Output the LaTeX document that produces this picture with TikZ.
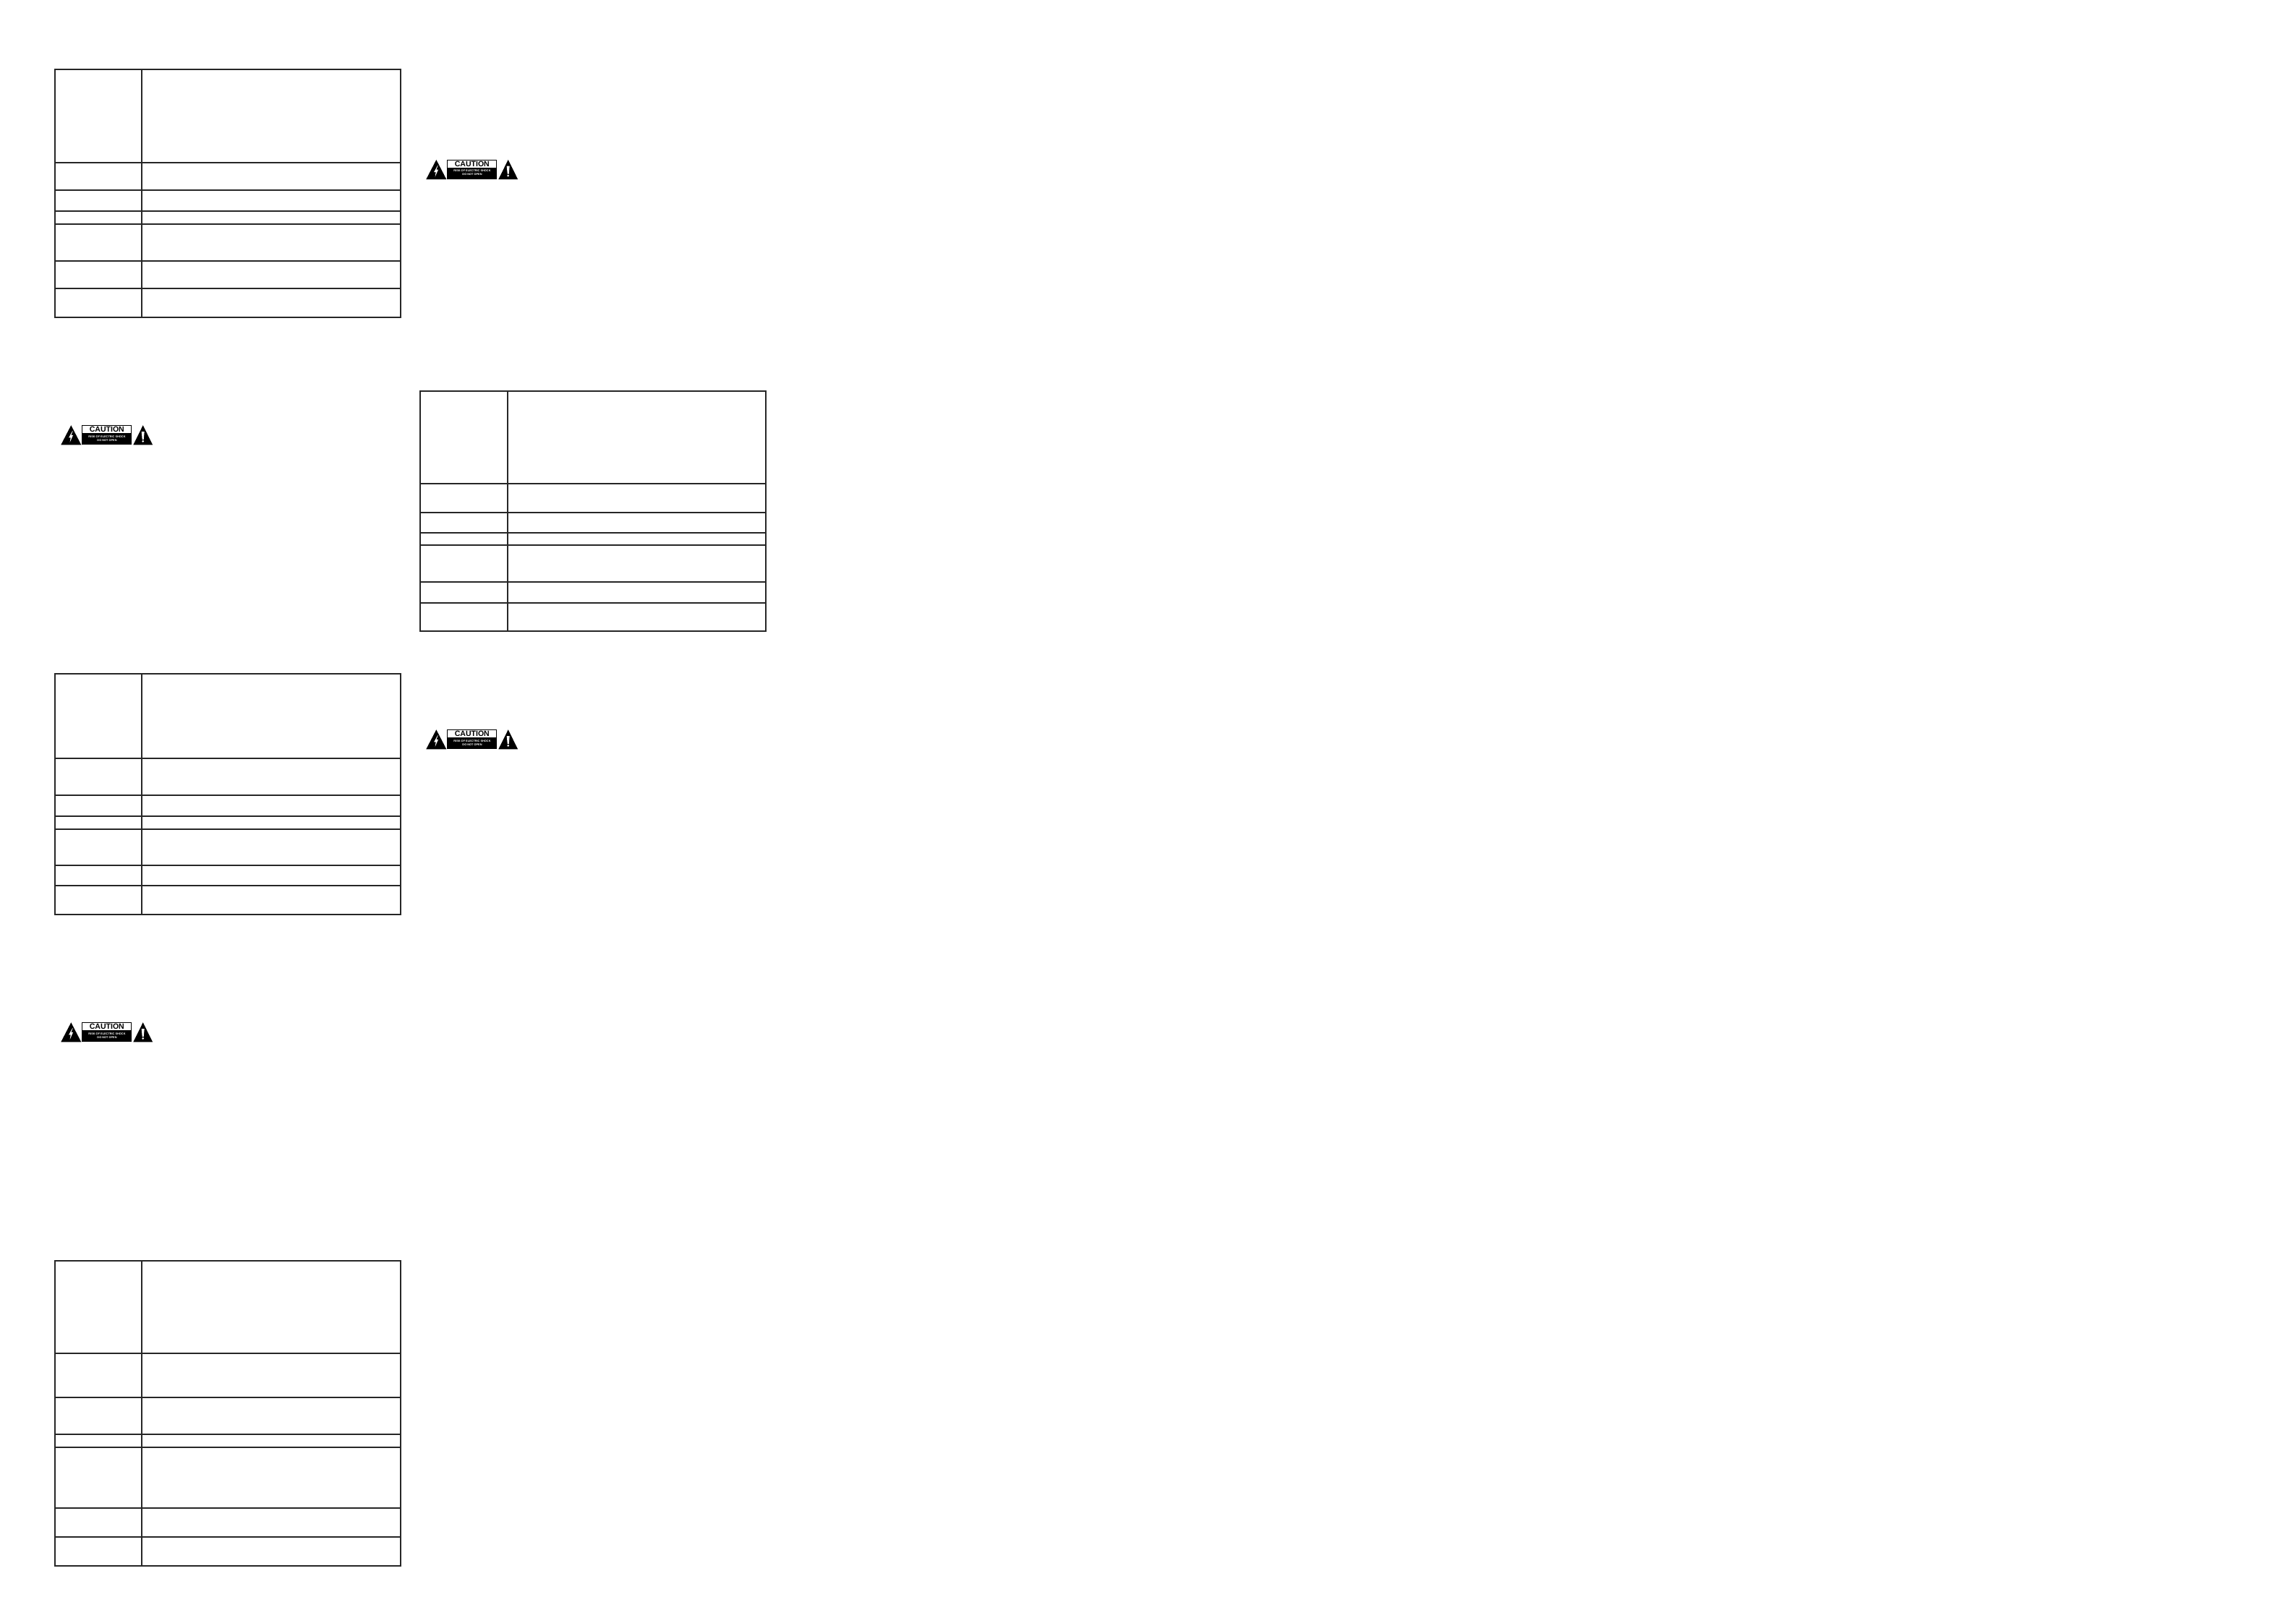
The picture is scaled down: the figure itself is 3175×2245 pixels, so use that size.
\documentclass[tikz,border=0pt]{standalone}
\usepackage{fontspec}
\setmainfont{Liberation Sans}
\usepackage{tikz}

% one table: name, left, column, right edge, top, then the row lines from top to bottom
\newcommand{\spectable}[6]{
  \foreach \rowy [count=\rowi, remember=\rowy as \lasty (initially #5)] in {#6} {
    \node[speccell, minimum width={(#3-#2)*0.01cm}, minimum height={(\rowy-\lasty)*0.01cm}](#1L\rowi) at (#2, \lasty){};
    \node[speccell, minimum width={(#4-#3)*0.01cm}, minimum height={(\rowy-\lasty)*0.01cm}](#1R\rowi) at (#3, \lasty){};
  }
}

% one caution label, placed by the top left corner of its first triangle
\newcommand{\cautionlabel}[3]{
  \begin{scope}[shift={(#2, #3)}]
    \fill (14, 0) -- (0, 27) -- (28, 27) -- cycle;
    \fill[white] (16, 7.7) -- (10.8, 17) -- (13.4, 17) -- (12.4, 23.5) -- (16.8, 13.5) -- (14.2, 13.5) -- (16.4, 7.7) -- cycle;
    \node[cautionbox](#1box) at (29, 0){};
    \node[cautiontop](#1top) at (30, 1){\textbf{CAUTION}};
    \node[cautionsmall](#1small) at (63.7, 18){RISK OF ELECTRIC SHOCK\\DO NOT OPEN};
    \fill (113.4, 0) -- (100, 27) -- (126.8, 27) -- cycle;
    \fill[white] (111.4, 8.7) -- (115.4, 8.7) -- (114.4, 19.7) -- (112.4, 19.7) -- cycle;
    \node[bangdot](#1dot) at (113.4, 22){};
  \end{scope}
}

\begin{document}
\begin{tikzpicture}[
    x=0.01cm, y=-0.01cm,
    speccell/.style={draw=black!85, line width=0.5pt, inner sep=0pt, outer sep=0pt, anchor=north west},
    cautionbox/.style={fill=black, anchor=north west, inner sep=0pt, outer sep=0pt, minimum width=0.69cm, minimum height=0.265cm},
    cautiontop/.style={fill=white, anchor=north west, inner sep=0pt, outer sep=0pt, minimum width=0.67cm, minimum height=0.10cm, font=\fontsize{3pt}{3pt}\selectfont},
    cautionsmall/.style={text=white, align=center, inner sep=0pt, font=\fontsize{1.1pt}{1.5pt}\selectfont\bfseries},
    bangdot/.style={circle, fill=white, inner sep=0pt, minimum size=0.03cm}
]
\useasboundingbox (0, -1) rectangle (3175, 2244);
\spectable{tableA}{76.3}{196.3}{553.7}{95.3}{223.7, 262, 291.3, 308.7, 359.7, 398.3, 438.3}
\spectable{tableB}{76.3}{196.3}{553.7}{930.7}{1048, 1098.7, 1128, 1145.7, 1196.3, 1224.3, 1264}
\spectable{tableC}{76.3}{196.3}{553.7}{1743.3}{1871.3, 1932.3, 1983.3, 2000.7, 2085, 2125, 2164.7}
\spectable{tableD}{580.7}{702}{1059.3}{540}{667.7, 708, 736, 753, 804, 833.3, 872}
\cautionlabel{labelA}{84.3}{587.3}
\cautionlabel{labelB}{589.3}{220}
\cautionlabel{labelC}{589.3}{1008.3}
\cautionlabel{labelD}{84.3}{1413.3}
\end{tikzpicture}
\end{document}
